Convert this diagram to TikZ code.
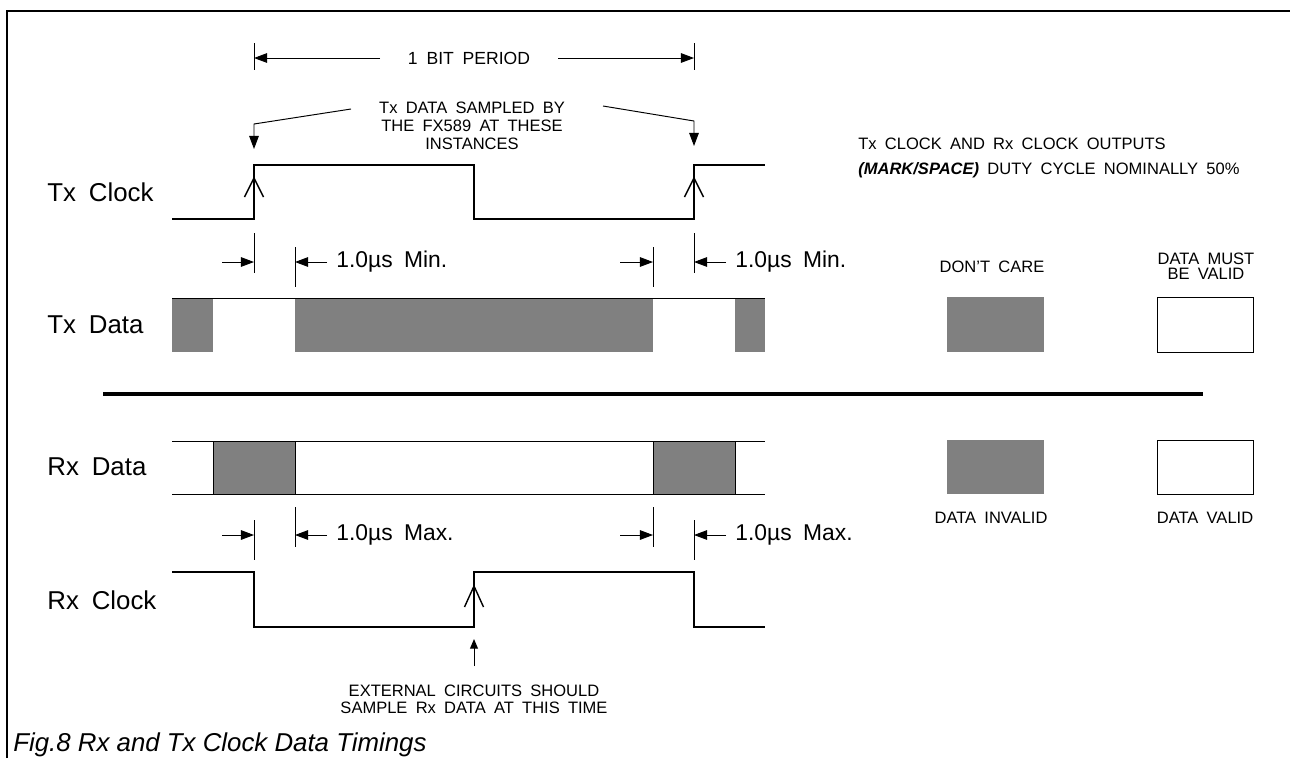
\documentclass[tikz,border=0pt]{standalone}
\usepackage{fontspec}
\setmainfont{Liberation Sans}
\newfontfamily\wsfont[WordSpace=1.8]{Liberation Sans}
\usetikzlibrary{arrows.meta}
\begin{document}
\begin{tikzpicture}[x=0.02cm,y=-0.02cm,
  wave/.style={line width=1.2pt, line join=miter},
  thinln/.style={line width=0.55pt},
  chev/.style={line width=0.8pt},
  dimarrow/.style={line width=0.55pt,-{Triangle[length=7.5pt,width=5.5pt]}},
  lbl/.style={font=\wsfont\fontsize{14.7}{17}\selectfont, anchor=west, inner sep=0},
  dimtxt/.style={font=\wsfont\fontsize{13}{15}\selectfont, anchor=west, inner sep=0},
  small/.style={font=\wsfont\fontsize{9.4}{10.2}\selectfont, inner sep=0, align=center},
  dontcare/.style={fill=black!50, draw=none},
  valid/.style={fill=white, draw=black, line width=0.55pt}]
\useasboundingbox (0,0) rectangle (1290,758);
% frame
\draw[line width=1.3pt] (7,758) -- (7,11) -- (1290,11);
% 1 bit period
\node[small, font=\wsfont\fontsize{10}{11}\selectfont] (bp) at (469,58) {1 BIT PERIOD};
\coordinate (bpL) at (254,58);
\coordinate (bpR) at (694,58);
\coordinate (bpa) at (380,58);
\coordinate (bpb) at (558,58);
\draw[thinln] (254,43) -- (254,70);
\draw[thinln] (694,43) -- (694,70);
\draw[dimarrow] (bpa) -- (bpL);
\draw[dimarrow] (bpb) -- (bpR);
% sampled text
\node[small] (samp) at (472,126) {Tx DATA SAMPLED BY\\THE FX589 AT THESE\\INSTANCES};
\coordinate (sl0) at (351,109);
\coordinate (sl1) at (254,124);
\coordinate (sl2) at (254,149);
\coordinate (sr0) at (603,106);
\coordinate (sr1) at (694,121);
\coordinate (sr2) at (694,146);
\draw[dimarrow] (sl0) -- (sl1) -- (sl2);
\draw[dimarrow] (sr0) -- (sr1) -- (sr2);
% Tx clock
\node[lbl] (txclk) at (47,192) {Tx Clock};
\draw[wave] (172,219) -- (254,219) -- (254,165) -- (474,165) -- (474,219) -- (694,219) -- (694,165) -- (765,165);
\draw[chev] (244.5,197) -- (254,178) -- (263.5,197);
\draw[chev] (684.5,197) -- (694,178) -- (703.5,197);
% legend text
\node[small, anchor=west, align=left, font=\wsfont\fontsize{9.4}{14.7}\selectfont] (leg) at (858,158) {Tx CLOCK AND Rx CLOCK OUTPUTS\\\textbf{\textit{(MARK/SPACE)}} DUTY CYCLE NOMINALLY 50\%};
% Tx dims
\draw[thinln] (254,233) -- (254,273);
\draw[thinln] (295,247) -- (295,287);
\draw[thinln] (653,247) -- (653,287);
\draw[thinln] (694,233) -- (694,273);
\coordinate (t1) at (222,262); \coordinate (t1e) at (254,262);
\coordinate (t2) at (327,262); \coordinate (t2e) at (295,262);
\coordinate (t3) at (620,262); \coordinate (t3e) at (653,262);
\coordinate (t4) at (726,262); \coordinate (t4e) at (694,262);
\draw[dimarrow] (t1) -- (t1e);
\draw[dimarrow] (t2) -- (t2e);
\draw[dimarrow] (t3) -- (t3e);
\draw[dimarrow] (t4) -- (t4e);
\node[dimtxt] (tmin1) at (336,262) {1.0µs Min.};
\node[dimtxt] (tmin2) at (735,262) {1.0µs Min.};
% Tx data
\node[lbl] (txdat) at (47,325) {Tx Data};
\fill[black!50] (172,298) rectangle (213,352);
\fill[black!50] (295,298) rectangle (653,352);
\fill[black!50] (735,298) rectangle (765,352);
\draw[thinln] (172,298) -- (765,298);
% legend top
\node[small] (dc) at (992,267) {DON’T CARE};
\node[small, font=\wsfont\fontsize{9.4}{8.5}\selectfont] (dmv) at (1206,266) {DATA MUST\\BE VALID};
\path[dontcare] (947,297) rectangle (1044,352);
\path[valid] (1157,297) rectangle (1253,352);
% separator
\draw[line width=1.8pt] (103,394) -- (1203,394);
% Rx data
\node[lbl] (rxdat) at (47,467) {Rx Data};
\draw[thinln] (172,441) -- (765,441);
\draw[thinln] (172,494) -- (765,494);
\filldraw[fill=black!50, draw=black, thinln] (213,441) rectangle (295,494);
\filldraw[fill=black!50, draw=black, thinln] (653,441) rectangle (735,494);
\path[dontcare] (947,440) rectangle (1044,494);
\path[valid] (1157,440) rectangle (1253,494);
\node[small] (di) at (991,518) {DATA INVALID};
\node[small] (dv) at (1205,518) {DATA VALID};
% Rx dims
\draw[thinln] (254,520) -- (254,560);
\draw[thinln] (295,507) -- (295,547);
\draw[thinln] (653,507) -- (653,547);
\draw[thinln] (694,520) -- (694,560);
\coordinate (r1) at (222,535); \coordinate (r1e) at (254,535);
\coordinate (r2) at (327,535); \coordinate (r2e) at (295,535);
\coordinate (r3) at (620,535); \coordinate (r3e) at (653,535);
\coordinate (r4) at (726,535); \coordinate (r4e) at (694,535);
\draw[dimarrow] (r1) -- (r1e);
\draw[dimarrow] (r2) -- (r2e);
\draw[dimarrow] (r3) -- (r3e);
\draw[dimarrow] (r4) -- (r4e);
\node[dimtxt] (rmax1) at (336,535) {1.0µs Max.};
\node[dimtxt] (rmax2) at (735,535) {1.0µs Max.};
% Rx clock
\node[lbl] (rxclk) at (47,600) {Rx Clock};
\draw[wave] (172,572) -- (254,572) -- (254,627) -- (474,627) -- (474,572) -- (694,572) -- (694,627) -- (765,627);
\draw[chev] (464.5,607) -- (474,586) -- (483.5,607);
\node[small, font=\wsfont\fontsize{9.4}{9.6}\selectfont] (ext) at (474,699) {EXTERNAL CIRCUITS SHOULD\\SAMPLE Rx DATA AT THIS TIME};
\coordinate (ea) at (474,666);
\coordinate (eb) at (474,639);
\draw[line width=0.55pt,-{Triangle[length=5.5pt,width=4.5pt]}] (ea) -- (eb);
% caption
\node[anchor=west, inner sep=0, font=\itshape\fontsize{14.7}{17}\selectfont] (cap) at (13,745) {Fig.8 Rx and Tx Clock Data Timings};
\end{tikzpicture}
\end{document}
